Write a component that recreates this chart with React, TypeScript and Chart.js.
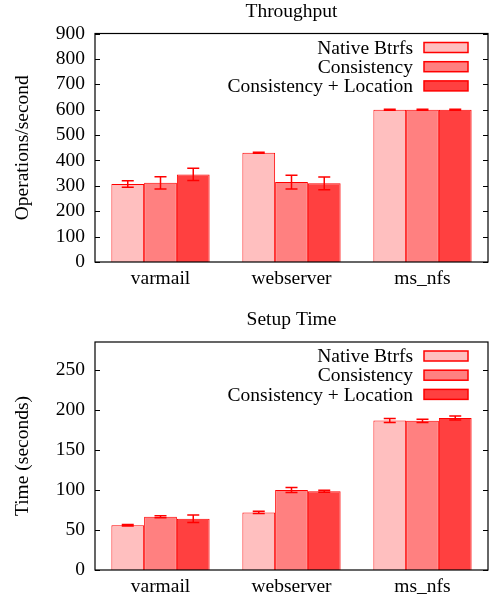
import React, { useEffect, useRef } from 'react';
import { Chart, registerables } from 'chart.js';

Chart.register(...registerables);

const FONT = '"Liberation Serif", "Times New Roman", serif';
const FS = 19.5;

const categories = ['varmail', 'webserver', 'ms_nfs'];
const seriesNames = ['Native Btrfs', 'Consistency', 'Consistency + Location'];
const seriesColors = ['#FFBFBF', '#FF8080', '#FF4040'];

// Throughput (operations/second)
const throughputNative = [307, 430, 600];
const throughputNativeErr = [13, 2, 2];
const throughputConsistency = [312, 315, 600];
const throughputConsistencyErr = [24, 27, 2];
const throughputLocation = [345, 310, 600];
const throughputLocationErr = [24, 25, 2];
const throughputMax = 900;
const throughputStep = 100;

// Setup time (seconds)
const setupNative = [56, 72, 187];
const setupNativeErr = [1, 1.5, 2.5];
const setupConsistency = [66.5, 100, 186.5];
const setupConsistencyErr = [1.2, 3, 2];
const setupLocation = [64, 98.5, 190];
const setupLocationErr = [4.7, 1.2, 2.5];
const setupMax = 285;
const setupStep = 50;

type Spec = {
  title: string;
  yLabel: string;
  values: number[][];
  errors: number[][];
  yMax: number;
  step: number;
  titlePadTop: number;
  titlePadBottom: number;
  xAxisHeight: number;
};

function makePlugins(errs: number[][]) {
  const frame = {
    id: 'frame',
    afterDatasetsDraw(chart: any) {
      const { ctx, chartArea } = chart;
      const y = chart.scales.y;
      ctx.save();
      ctx.strokeStyle = '#000';
      ctx.lineWidth = 1.2;
      ctx.strokeRect(chartArea.left, chartArea.top, chartArea.right - chartArea.left, chartArea.bottom - chartArea.top);
      ctx.lineWidth = 1;
      y.ticks.forEach((t: any) => {
        const py = Math.round(y.getPixelForValue(t.value)) + 0.5;
        ctx.beginPath();
        ctx.moveTo(chartArea.left, py);
        ctx.lineTo(chartArea.left + 5, py);
        ctx.moveTo(chartArea.right, py);
        ctx.lineTo(chartArea.right - 5, py);
        ctx.stroke();
      });
      ctx.restore();
    },
  };
  const errorBars = {
    id: 'errorBars',
    afterDatasetsDraw(chart: any) {
      const ctx = chart.ctx;
      const y = chart.scales.y;
      ctx.save();
      ctx.strokeStyle = '#FF0000';
      ctx.lineWidth = 1.5;
      chart.data.datasets.forEach((ds: any, i: number) => {
        const meta = chart.getDatasetMeta(i);
        meta.data.forEach((el: any, j: number) => {
          const v = ds.data[j] as number;
          const e = errs[i][j];
          const x = el.x;
          const t = y.getPixelForValue(v + e);
          const b = y.getPixelForValue(v - e);
          ctx.beginPath();
          ctx.moveTo(x, t);
          ctx.lineTo(x, b);
          ctx.moveTo(x - 6, t);
          ctx.lineTo(x + 6, t);
          ctx.moveTo(x - 6, b);
          ctx.lineTo(x + 6, b);
          ctx.stroke();
        });
      });
      ctx.restore();
    },
  };
  const legendBox = {
    id: 'legendBox',
    afterDatasetsDraw(chart: any) {
      const { ctx, chartArea } = chart;
      ctx.save();
      ctx.font = `${FS}px ${FONT}`;
      ctx.textAlign = 'right';
      ctx.textBaseline = 'middle';
      chart.data.datasets.forEach((ds: any, i: number) => {
        const cy = chartArea.top + 14 + i * 19.2;
        const boxRight = chartArea.right - 20;
        const boxLeft = boxRight - 44;
        ctx.fillStyle = ds.backgroundColor;
        ctx.fillRect(boxLeft, cy - 5, 44, 10);
        ctx.strokeStyle = '#FF0000';
        ctx.lineWidth = 1.5;
        ctx.strokeRect(boxLeft, cy - 5, 44, 10);
        ctx.fillStyle = '#000';
        ctx.fillText(ds.label, boxLeft - 11, cy + 1);
      });
      ctx.restore();
    },
  };
  return [frame, errorBars, legendBox];
}

function BarPanel({ spec }: { spec: Spec }) {
  const ref = useRef<HTMLCanvasElement | null>(null);
  useEffect(() => {
    if (!ref.current) return;
    const chart = new Chart(ref.current, {
      type: 'bar',
      data: {
        labels: categories,
        datasets: spec.values.map((vals, i) => ({
          label: seriesNames[i],
          data: vals,
          backgroundColor: seriesColors[i],
          borderColor: '#FF0000',
          borderWidth: 1,
          categoryPercentage: 0.75,
          barPercentage: 1.0,
        })),
      },
      options: {
        animation: false,
        responsive: false,
        devicePixelRatio: 1,
        layout: { padding: { left: 0, right: 1, top: 0, bottom: 0 } },
        plugins: {
          legend: { display: false },
          tooltip: { enabled: false },
          title: {
            display: true,
            fullSize: false,
            text: spec.title,
            color: '#000',
            font: { family: FONT, size: FS, weight: 'normal' },
            padding: { top: spec.titlePadTop, bottom: spec.titlePadBottom },
          },
        },
        scales: {
          x: {
            grid: { display: false },
            border: { display: false },
            ticks: { color: '#000', font: { family: FONT, size: FS }, padding: -2.7, maxRotation: 0 },
            afterFit: (s: any) => {
              s.height = spec.xAxisHeight;
            },
          },
          y: {
            min: 0,
            max: spec.yMax,
            grid: { display: false },
            border: { display: false },
            ticks: {
              stepSize: spec.step,
              includeBounds: false,
              autoSkip: false,
              color: '#000',
              font: { family: FONT, size: FS },
              padding: 2,
            },
            title: {
              display: true,
              text: spec.yLabel,
              color: '#000',
              font: { family: FONT, size: FS },
              padding: { top: 10.8, bottom: 0 },
            },
            afterFit: (s: any) => {
              s.width = 95;
            },
          },
        },
      },
      plugins: makePlugins(spec.errors) as any,
    });
    return () => chart.destroy();
  }, [spec]);
  return <canvas ref={ref} width={489} height={299} style={{ display: 'block', width: 489, height: 299 }} />;
}

const throughputSpec: Spec = {
  title: 'Throughput',
  yLabel: 'Operations/second',
  values: [throughputNative, throughputConsistency, throughputLocation],
  errors: [throughputNativeErr, throughputConsistencyErr, throughputLocationErr],
  yMax: throughputMax,
  step: throughputStep,
  titlePadTop: 0.5,
  titlePadBottom: 9.6,
  xAxisHeight: 37,
};

const setupSpec: Spec = {
  title: 'Setup Time',
  yLabel: 'Time (seconds)',
  values: [setupNative, setupConsistency, setupLocation],
  errors: [setupNativeErr, setupConsistencyErr, setupLocationErr],
  yMax: setupMax,
  step: setupStep,
  titlePadTop: 9.3,
  titlePadBottom: 10.3,
  xAxisHeight: 28,
};

export default function App() {
  return (
    <div style={{ position: 'absolute', left: 0, top: 0, width: 489, height: 598, background: '#fff' }}>
      <BarPanel spec={throughputSpec} />
      <BarPanel spec={setupSpec} />
    </div>
  );
}
